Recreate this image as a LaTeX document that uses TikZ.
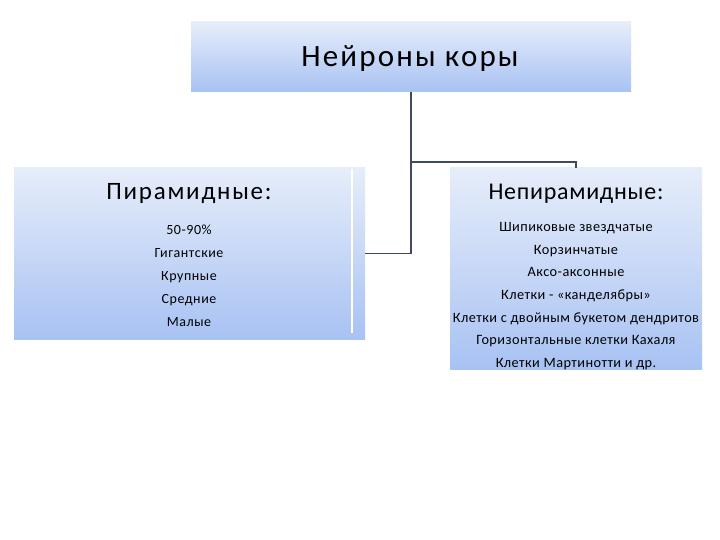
\documentclass[tikz,border=0pt]{standalone}
\usepackage{fontspec}
\setmainfont{Carlito}
\newfontfamily\spacedA[LetterSpace=7]{Carlito}
\newfontfamily\spacedB[LetterSpace=4]{Carlito}
\newfontfamily\spacedC[LetterSpace=3]{Carlito}
\begin{document}
\begin{tikzpicture}[x=1pt,y=-1pt,
  box/.style={draw=none,rectangle,inner sep=0pt,top color=boxtop,bottom color=boxbot},
  conn/.style={draw=connc,line width=1.6pt},
  head/.style={font=\fontsize{24}{28}\selectfont,text=black},
  lst/.style={align=center,text=black}]
\definecolor{boxtop}{HTML}{E6EDFA}
\definecolor{boxbot}{HTML}{A8C2F3}
\definecolor{connc}{HTML}{3E4B5E}
\useasboundingbox (0,0) rectangle (720,540);
\fill[white] (0,0) rectangle (720,540);
\node[box,minimum width=440pt,minimum height=70pt] (top) at (411,57) {};
\node[box,minimum width=351pt,minimum height=171pt] (left) at (189.5,253.5) {};
\node[box,minimum width=252pt,minimum height=201pt] (right) at (576,268.5) {};
\draw[white,line width=1.2pt] (352,169) -- (352,333);
\node[font=\spacedA\fontsize{31}{34}\selectfont] (title) at (410,59) {Нейроны коры};
\node[head,font=\spacedA\fontsize{25}{28}\selectfont] (lh) at (189,194) {Пирамидные:};
\node[head,font=\spacedC\fontsize{24}{28}\selectfont] (rh) at (576,194) {Непирамидные:};
\node[lst,font=\spacedB\fontsize{14}{23}\selectfont] (ll) at (189,276) {50-90\%\\Гигантские\\Крупные\\Средние\\Малые};
\node[lst,font=\spacedC\fontsize{14.3}{22.7}\selectfont] (rl) at (576,296) {Шипиковые звездчатые\\Корзинчатые\\Аксо-аксонные\\Клетки - «канделябры»\\Клетки с двойным букетом дендритов\\Горизонтальные клетки Кахаля\\Клетки Мартинотти и др.};
\coordinate (j) at (top.south |- left.east);
\draw[conn] (top.south) -- (j) -- (left.east);
\draw[conn] (top.south |- 0,162) -| (right.north);
\end{tikzpicture}
\end{document}
